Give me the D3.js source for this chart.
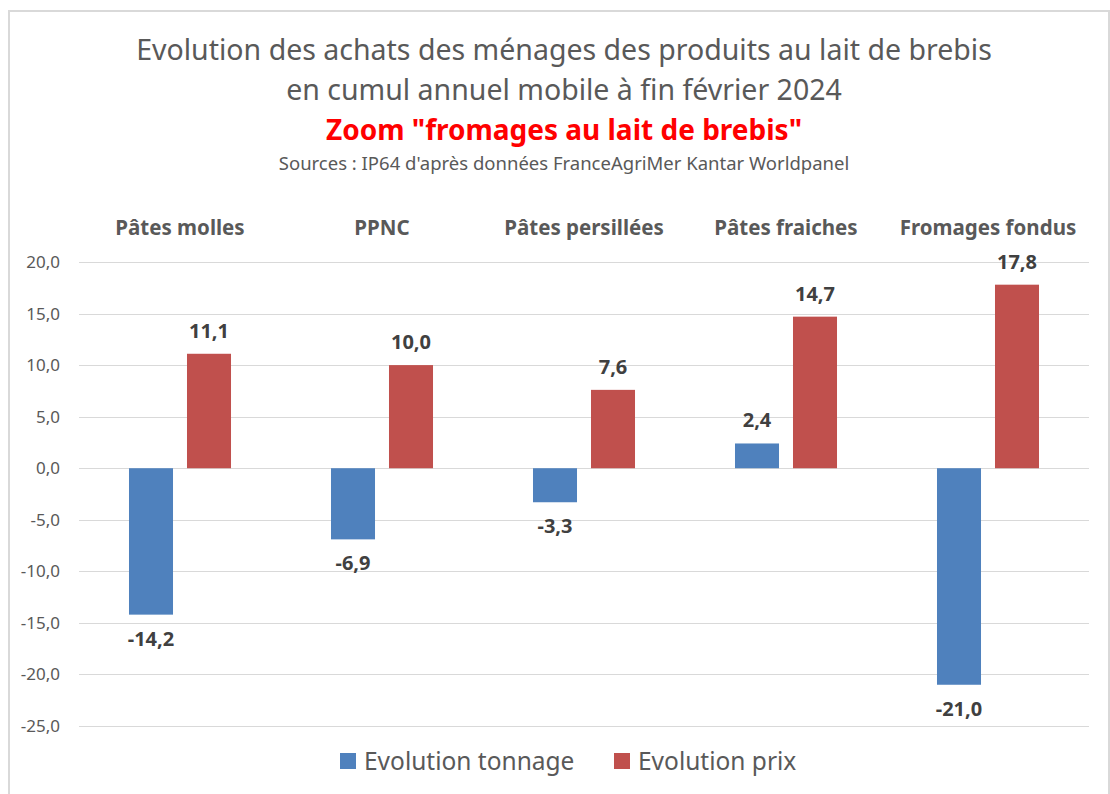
<!doctype html>
<html lang="fr">
  <head>
    <meta charset="UTF-8"/>
    <title>Achats fromages au lait de brebis</title>
    <script src="https://cdnjs.cloudflare.com/ajax/libs/d3/7.8.5/d3.min.js"></script>
    <style>
      body { margin: 0; background: #fff; }
      text { font-family: "Noto Sans", "Open Sans", sans-serif; }
    </style>
  </head>
  <body>
    <div id="chart"></div>
    <script>
      // data
      var categories = ["Pâtes molles", "PPNC", "Pâtes persillées", "Pâtes fraiches", "Fromages fondus"];
      var series = ["Evolution tonnage", "Evolution prix"];
      var tonnage = [-14.2, -6.9, -3.3, 2.4, -21.0];
      var prix = [11.1, 10.0, 7.6, 14.7, 17.8];
      var yTicks = [20, 15, 10, 5, 0, -5, -10, -15, -20, -25];
      var colors = ["#4f81bd", "#c0504d"];

      var width = 1110, height = 794;
      var margin = {top: 262, right: 21, bottom: 68, left: 79};

      var svg = d3.select("#chart").append("svg")
          .attr("width", width)
          .attr("height", height);

      // chart frame
      svg.append("rect")
        .attr("x", 9).attr("y", 11)
        .attr("width", width - 10).attr("height", height - 6)
        .attr("fill", "#fff")
        .attr("stroke", "#d9d9d9")
        .attr("stroke-width", 2);

      var x = d3.scaleBand()
          .domain(categories)
          .range([margin.left, width - margin.right]);

      var xInner = d3.scaleBand()
          .domain(series)
          .range([0, x.bandwidth()])
          .paddingInner(0.241)
          .paddingOuter(0.862);

      var y = d3.scaleLinear()
          .domain([-25, 20])
          .range([726, 262]);

      // grid
      svg.append("g")
        .selectAll("line")
        .data(yTicks)
        .enter().append("line")
        .attr("x1", margin.left)
        .attr("x2", width - margin.right)
        .attr("y1", function(d) { return Math.round(y(d)) + 0.5; })
        .attr("y2", function(d) { return Math.round(y(d)) + 0.5; })
        .attr("stroke", "#d9d9d9")
        .attr("stroke-width", 1.2);

      // y axis labels
      var fmt = function(v) { return d3.format(".1f")(v).replace(".", ",").replace("−", "-"); };
      svg.append("g")
        .selectAll("text")
        .data(yTicks)
        .enter().append("text")
        .attr("x", 60)
        .attr("y", function(d) { return y(d); })
        .attr("dy", "0.35em")
        .attr("text-anchor", "end")
        .attr("fill", "#595959")
        .attr("font-size", 17)
        .text(fmt);

      // category labels on top
      svg.append("g")
        .selectAll("text")
        .data(categories)
        .enter().append("text")
        .attr("x", function(d) { return x(d) + x.bandwidth() / 2; })
        .attr("y", 235)
        .attr("text-anchor", "middle")
        .attr("fill", "#595959")
        .attr("font-size", 20.5)
        .attr("font-weight", "bold")
        .text(function(d) { return d; });

      var rows = categories.map(function(c, i) {
        return [
          {cat: c, s: series[0], v: tonnage[i], color: colors[0]},
          {cat: c, s: series[1], v: prix[i], color: colors[1]}
        ];
      });

      var group = svg.append("g").selectAll("g")
        .data(rows)
        .enter().append("g")
        .attr("transform", function(d) { return "translate(" + x(d[0].cat) + ",0)"; });

      group.selectAll("rect")
        .data(function(d) { return d; })
        .enter().append("rect")
        .attr("x", function(d) { return xInner(d.s); })
        .attr("width", xInner.bandwidth())
        .attr("y", function(d) { return y(Math.max(0, d.v)); })
        .attr("height", function(d) { return Math.abs(y(d.v) - y(0)); })
        .attr("fill", function(d) { return d.color; });

      group.selectAll("text")
        .data(function(d) { return d; })
        .enter().append("text")
        .attr("x", function(d) { return xInner(d.s) + xInner.bandwidth() / 2; })
        .attr("y", function(d) { return d.v >= 0 ? y(d.v) - 16 : y(d.v) + 31; })
        .attr("text-anchor", "middle")
        .attr("fill", "#404040")
        .attr("font-size", 20)
        .attr("font-weight", "bold")
        .text(function(d) { return fmt(d.v); });

      // titles
      svg.append("text")
        .attr("x", 564).attr("y", 60)
        .attr("text-anchor", "middle")
        .attr("fill", "#595959")
        .attr("font-size", 28.5)
        .text("Evolution des achats des ménages des produits au lait de brebis");
      svg.append("text")
        .attr("x", 564).attr("y", 100)
        .attr("text-anchor", "middle")
        .attr("fill", "#595959")
        .attr("font-size", 28.5)
        .text("en cumul annuel mobile à fin février 2024");
      svg.append("text")
        .attr("x", 564).attr("y", 140)
        .attr("text-anchor", "middle")
        .attr("fill", "#ff0000")
        .attr("font-size", 28)
        .attr("font-weight", "bold")
        .text("Zoom \"fromages au lait de brebis\"");
      svg.append("text")
        .attr("x", 564).attr("y", 170)
        .attr("text-anchor", "middle")
        .attr("fill", "#595959")
        .attr("font-size", 18.5)
        .text("Sources : IP64 d'après données FranceAgriMer Kantar Worldpanel");

      // legend
      var legendX = [340, 614];
      var legend = svg.append("g").selectAll("g")
        .data(series)
        .enter().append("g")
        .attr("transform", function(d, i) { return "translate(" + legendX[i] + ",753)"; });
      legend.append("rect")
        .attr("width", 16).attr("height", 16)
        .attr("fill", function(d, i) { return colors[i]; });
      legend.append("text")
        .attr("x", 24).attr("y", 8)
        .attr("dy", "0.36em")
        .attr("fill", "#595959")
        .attr("font-size", 24.5)
        .text(function(d) { return d; });
    </script>
  </body>
</html>
